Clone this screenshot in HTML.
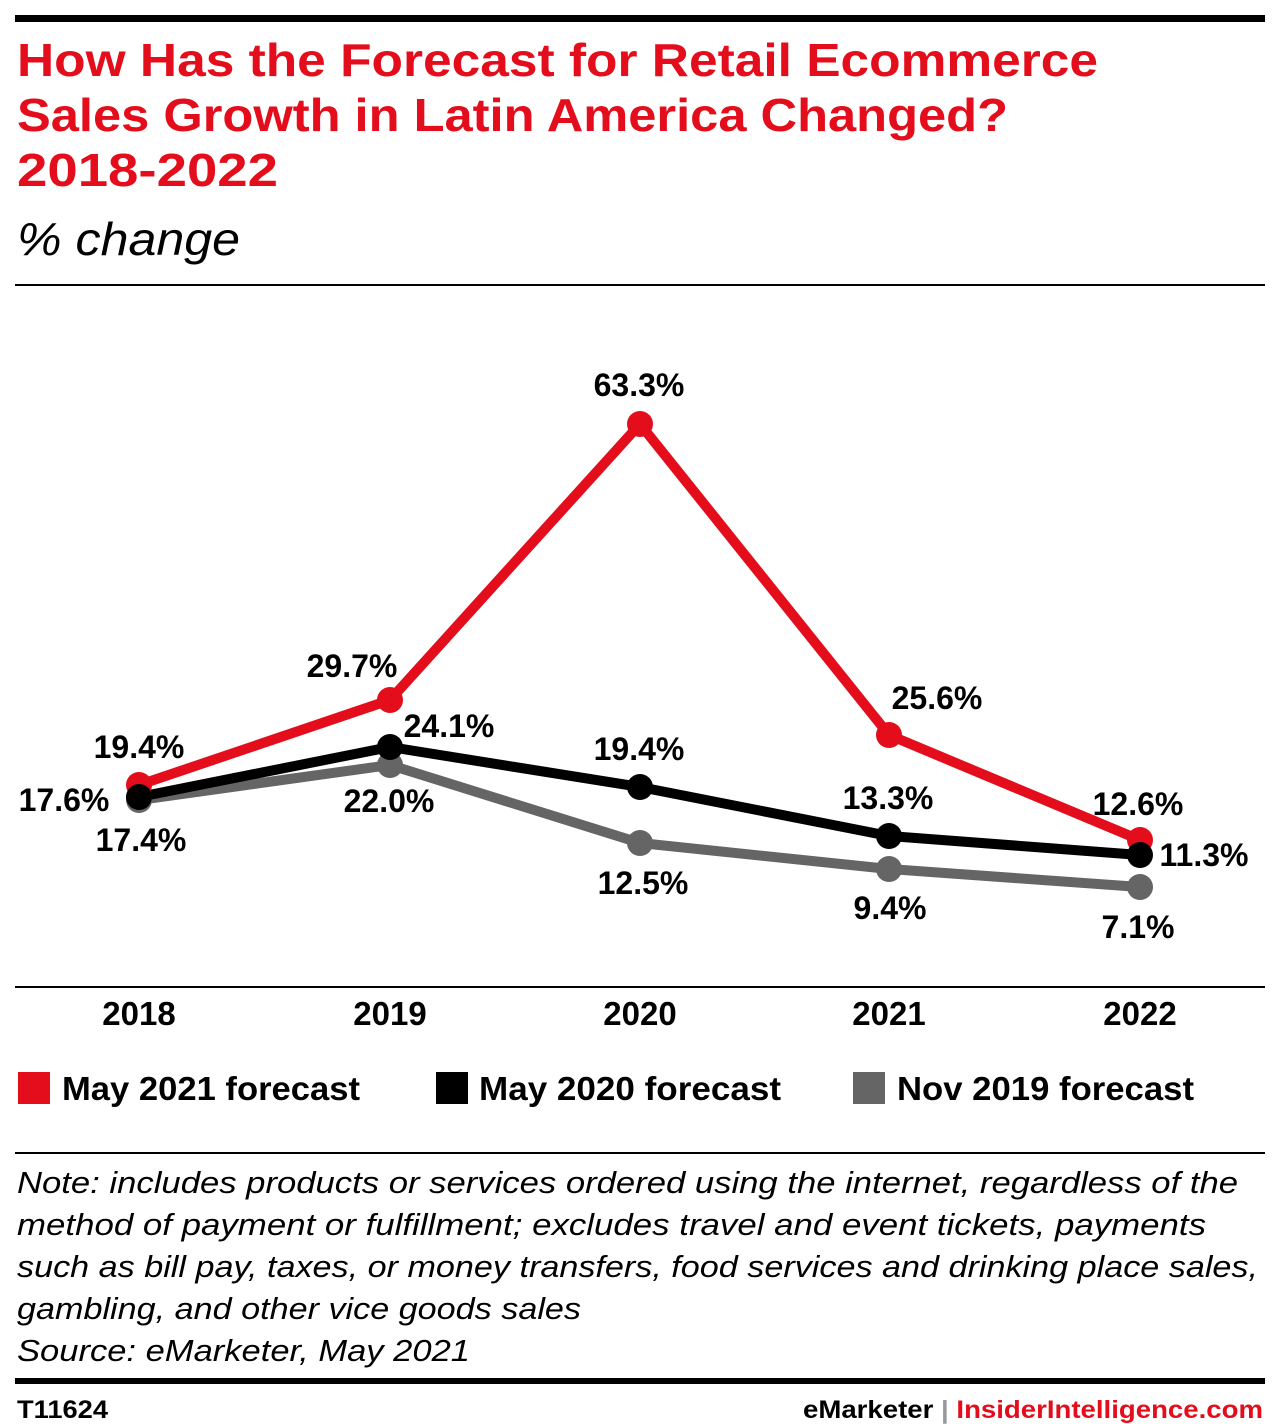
<!DOCTYPE html>
<html><head><meta charset="utf-8"><style>
body{margin:0;background:#fff;width:1280px;height:1424px;overflow:hidden;font-family:"Liberation Sans",sans-serif;}
svg{display:block}
</style></head><body>
<svg width="1280" height="1424" xmlns="http://www.w3.org/2000/svg" font-family="Liberation Sans, sans-serif">
<rect x="15" y="15" width="1250" height="7" fill="#000"/>
<g fill="#e30d1b" font-weight="bold" font-size="46">
<text x="17" y="76" textLength="1081" lengthAdjust="spacingAndGlyphs">How Has the Forecast for Retail Ecommerce</text>
<text x="17" y="131" textLength="991" lengthAdjust="spacingAndGlyphs">Sales Growth in Latin America Changed?</text>
<text x="17" y="186" textLength="261" lengthAdjust="spacingAndGlyphs">2018-2022</text>
</g>
<text x="17" y="255" font-size="46" font-style="italic" fill="#000" textLength="223" lengthAdjust="spacingAndGlyphs">% change</text>
<rect x="15" y="284" width="1250" height="2" fill="#000"/>
<g fill="none" stroke-width="10" stroke-linejoin="round">
<polyline stroke="#656565" points="139,800 390,765 640,843 889,869 1140,887"/>
<polyline stroke="#000" points="139,797 390,747 640,787 889,836 1140,855"/>
<polyline stroke="#e30d1b" points="139,785 390,700 640,424 889,735 1140,840"/>
</g>
<g fill="#656565"><circle cx="139" cy="800" r="13"/><circle cx="390" cy="765" r="13"/><circle cx="640" cy="843" r="13"/><circle cx="889" cy="869" r="13"/><circle cx="1140" cy="887" r="13"/></g>
<g fill="#e30d1b"><circle cx="139" cy="785" r="13"/><circle cx="390" cy="700" r="13"/><circle cx="640" cy="424" r="13"/><circle cx="889" cy="735" r="13"/><circle cx="1140" cy="840" r="13"/></g>
<g fill="#000"><circle cx="139" cy="797" r="13"/><circle cx="390" cy="747" r="13"/><circle cx="640" cy="787" r="13"/><circle cx="889" cy="836" r="13"/><circle cx="1140" cy="855" r="13"/></g>
<g font-size="32" font-weight="bold" fill="#000" text-anchor="middle">
<text x="139" y="758">19.4%</text>
<text x="64" y="811">17.6%</text>
<text x="141" y="851">17.4%</text>
<text x="352" y="677">29.7%</text>
<text x="449" y="737">24.1%</text>
<text x="389" y="812">22.0%</text>
<text x="639" y="396">63.3%</text>
<text x="639" y="760">19.4%</text>
<text x="643" y="894">12.5%</text>
<text x="937" y="709">25.6%</text>
<text x="888" y="809">13.3%</text>
<text x="890" y="919">9.4%</text>
<text x="1138" y="815">12.6%</text>
<text x="1204" y="866">11.3%</text>
<text x="1138" y="938">7.1%</text>
</g>
<rect x="15" y="986" width="1250" height="2" fill="#000"/>
<g font-size="33" font-weight="bold" fill="#000" text-anchor="middle">
<text x="139" y="1025">2018</text><text x="390" y="1025">2019</text><text x="640" y="1025">2020</text><text x="889" y="1025">2021</text><text x="1140" y="1025">2022</text>
</g>
<rect x="18" y="1072" width="32" height="32" fill="#e30d1b"/>
<rect x="436" y="1072" width="32" height="32" fill="#000"/>
<rect x="853" y="1072" width="32" height="32" fill="#656565"/>
<g font-size="33" font-weight="bold" fill="#000">
<text x="62" y="1100" textLength="298" lengthAdjust="spacingAndGlyphs">May 2021 forecast</text>
<text x="479" y="1100" textLength="302" lengthAdjust="spacingAndGlyphs">May 2020 forecast</text>
<text x="897" y="1100" textLength="297" lengthAdjust="spacingAndGlyphs">Nov 2019 forecast</text>
</g>
<rect x="15" y="1152" width="1250" height="2" fill="#000"/>
<g font-size="31" font-style="italic" fill="#000" lengthAdjust="spacingAndGlyphs">
<text x="17" y="1193" textLength="1221" lengthAdjust="spacingAndGlyphs">Note: includes products or services ordered using the internet, regardless of the</text>
<text x="17" y="1235" textLength="1189" lengthAdjust="spacingAndGlyphs">method of payment or fulfillment; excludes travel and event tickets, payments</text>
<text x="17" y="1277" textLength="1241" lengthAdjust="spacingAndGlyphs">such as bill pay, taxes, or money transfers, food services and drinking place sales,</text>
<text x="17" y="1319" textLength="564" lengthAdjust="spacingAndGlyphs">gambling, and other vice goods sales</text>
<text x="17" y="1361" textLength="453" lengthAdjust="spacingAndGlyphs">Source: eMarketer, May 2021</text>
</g>
<rect x="15" y="1378" width="1250" height="6" fill="#000"/>
<text x="17" y="1418" font-size="25" font-weight="bold" fill="#000" textLength="91" lengthAdjust="spacingAndGlyphs">T11624</text>
<text x="803" y="1418" font-size="25" font-weight="bold" textLength="460" lengthAdjust="spacingAndGlyphs"><tspan fill="#000">eMarketer</tspan><tspan fill="#999"> | </tspan><tspan fill="#e30d1b">InsiderIntelligence.com</tspan></text>
</svg>
</body></html>
